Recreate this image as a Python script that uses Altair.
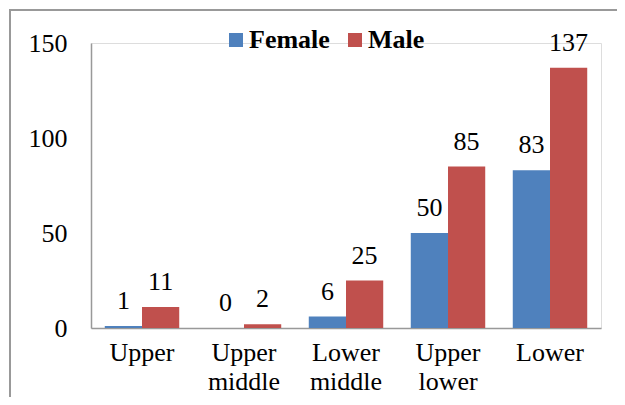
import altair as alt
import pandas as pd

categories = ["Upper", "Upper middle", "Lower middle", "Upper lower", "Lower"]
female = [1, 0, 6, 50, 83]
male = [11, 2, 25, 85, 137]
series = ["Female", "Male"]
colors = ["#4F81BD", "#C0504D"]
y_ticks = [0, 50, 100, 150]

rows = []
for c, f, m in zip(categories, female, male):
    rows.append({"category": c, "series": "Female", "value": f})
    rows.append({"category": c, "series": "Male", "value": m})
df = pd.DataFrame(rows)

FONT = "'Liberation Serif', 'Times New Roman', Times, 'DejaVu Serif', serif"

x = alt.X("category:N", sort=categories, title=None,
          scale=alt.Scale(paddingInner=0.27, paddingOuter=0.135),
          axis=alt.Axis(labelAngle=0, labelExpr="split(datum.label, ' ')",
                        labelFont=FONT, labelFontSize=26, labelColor="black",
                        labelLineHeight=29, labelPadding=11,
                        ticks=False, tickSize=0, domainColor="#999999",
                        domainWidth=1.5, grid=False))
y = alt.Y("value:Q", title=None,
          scale=alt.Scale(domain=[0, 150], nice=False),
          axis=alt.Axis(values=y_ticks, labelFont=FONT, labelFontSize=26,
                        labelColor="black", labelPadding=24, ticks=False,
                        tickSize=0, domainColor="#999999", domainWidth=1.5,
                        grid=False))
xoff = alt.XOffset("series:N", sort=series, scale=alt.Scale(paddingInner=0, paddingOuter=0))
color = alt.Color("series:N", sort=series,
                  scale=alt.Scale(domain=series, range=colors),
                  legend=alt.Legend(title=None, orient="none", direction="horizontal",
                                    legendX=132, legendY=-16, padding=0,
                                    symbolType="square", symbolSize=196,
                                    symbolStrokeWidth=0, labelFont=FONT,
                                    labelFontSize=26, labelFontWeight="bold",
                                    labelColor="black", labelOffset=0,
                                    columnPadding=12))

base = alt.Chart(df)
bars = base.mark_bar().encode(x=x, y=y, xOffset=xoff, color=color)
labels = base.mark_text(font=FONT, fontSize=26, color="black",
                        baseline="alphabetic", dy=-17).encode(
    x=x, y=y, xOffset=xoff, text="value:Q")

frame = alt.Chart(pd.DataFrame({"a": [0]})).mark_rect(
    fill=None, stroke="#999999", strokeWidth=2).encode(
    x=alt.value(-81), x2=alt.value(800), y=alt.value(-33), y2=alt.value(600))

chart = alt.layer(frame, bars, labels).properties(
    width=510, height=285,
    autosize=alt.AutoSizeParams(type="none"),
    padding={"left": 83, "top": 35, "right": 16, "bottom": 69},
).configure_view(stroke=None).configure(background="white")

chart.save("out.html", embed_options={"renderer": "svg", "actions": False})
